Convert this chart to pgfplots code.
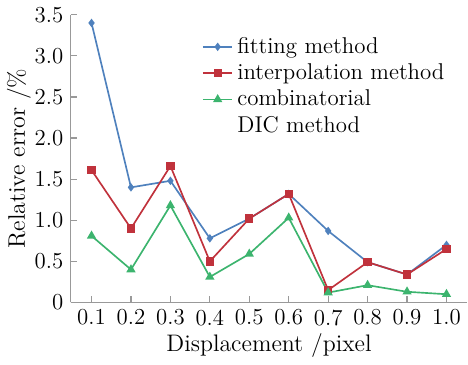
\documentclass[border=0pt]{standalone}
\usepackage{pgfplots}
\pgfplotsset{compat=1.18}
\definecolor{cblue}{RGB}{79,129,189}
\definecolor{cred}{RGB}{192,50,60}
\definecolor{cgreen}{RGB}{60,180,110}
\begin{document}
\begin{tikzpicture}
\begin{axis}[
  scale only axis,
  width=191pt, height=138.5pt,
  xmin=0.047, xmax=1.053, ymin=0, ymax=3.5,
  axis lines*=left,
  axis line style={gray!80, line width=0.6pt},
  every tick/.style={gray!80, line width=0.6pt},
  tick align=inside,
  major tick length=3pt,
  tick label style={font=\fontsize{11}{13}\selectfont},
  label style={font=\fontsize{11.5}{13}\selectfont},
  xtick={0.1,0.2,0.3,0.4,0.5,0.6,0.7,0.8,0.9,1.0},
  xticklabels={0.1,0.2,0.3,0.4,0.5,0.6,0.7,0.8,0.9,1.0},
  ytick={0,0.5,1,1.5,2,2.5,3,3.5},
  yticklabels={0,0.5,1.0,1.5,2.0,2.5,3.0,3.5},
  xlabel={Displacement /pixel},
  ylabel={Relative error /\%},
  xlabel style={yshift=3pt},
  ylabel style={yshift=-5pt},
  legend style={at={(rel axis cs:0.325,0.945)}, anchor=north west, draw=none, fill=none,
    row sep=-0.5pt, font=\fontsize{11}{13}\selectfont, inner sep=1pt},
  legend cell align=left,
  legend image code/.code={
    \draw[mark repeat=2,mark phase=2] plot coordinates {(0cm,0cm) (0.25cm,0cm) (0.5cm,0cm)};
  },
]
\addplot[cblue, line width=0.8pt, mark=diamond*, mark size=1.4pt] coordinates {
(0.1,3.40) (0.2,1.40) (0.3,1.48) (0.4,0.78) (0.5,1.02) (0.6,1.32) (0.7,0.87) (0.8,0.49) (0.9,0.34) (1.0,0.70)};
\addlegendentry{fitting method}
\addplot[cred, line width=0.8pt, mark=square*, mark size=1.6pt] coordinates {
(0.1,1.61) (0.2,0.90) (0.3,1.66) (0.4,0.50) (0.5,1.02) (0.6,1.32) (0.7,0.15) (0.8,0.49) (0.9,0.34) (1.0,0.65)};
\addlegendentry{interpolation method}
\addplot[cgreen, line width=0.8pt, mark=triangle*, mark size=1.8pt] coordinates {
(0.1,0.81) (0.2,0.40) (0.3,1.18) (0.4,0.31) (0.5,0.59) (0.6,1.03) (0.7,0.12) (0.8,0.21) (0.9,0.13) (1.0,0.10)};
\addlegendentry{combinatorial}
\addlegendimage{empty legend}
\addlegendentry{DIC method}
\end{axis}
\end{tikzpicture}
\end{document}
